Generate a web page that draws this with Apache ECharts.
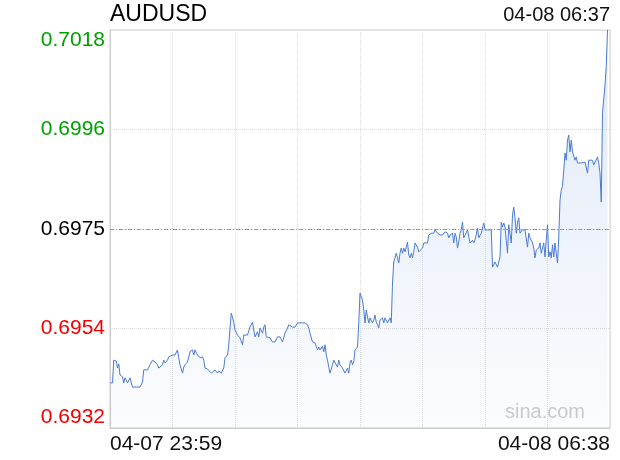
<!DOCTYPE html>
<html>
<head>
<meta charset="utf-8">
<script src="https://cdn.jsdelivr.net/npm/echarts@6/dist/echarts.min.js"></script>
<style>
  html, body { margin: 0; padding: 0; background: #fff; }
  #main { width: 620px; height: 460px; }
</style>
</head>
<body>
<div id="main"></div>
<script>
// minute index from 04-07 23:59
var minutes = [
  0,2,3,5,6,7,8,10,11,12,14,15,16,18,19,22,24,26,27,30,31,32,34,36,38,39,40,42,43,44,46,47,48,50,51,52,54,55,56,58,59,
  60,62,63,64,66,67,68,70,71,72,74,75,76,78,79,81,82,84,86,87,89,90,91,92,94,95,96,97,98,99,
  100,101,102,103,104,106,107,108,110,111,112,114,115,116,118,119,120,122,123,124,125,126,128,130,132,134,136,138,139,
  140,142,143,144,146,147,148,150,151,154,156,158,159,160,162,163,164,166,167,168,170,171,172,173,174,175,176,178,179,
  180,182,183,184,186,187,188,190,191,192,193,194,195,196,198,199,200,202,203,204,205,206,207,208,209,210,211,212,213,214,215,216,217,218,219,
  220,222,223,224,225,226,227,228,229,230,231,232,233,234,235,236,237,238,239,240,241,242,243,244,246,247,248,250,251,252,254,255,257,259,
  260,262,263,264,266,267,268,269,270,271,272,274,275,276,277,278,279,280,281,282,283,284,286,287,288,289,290,291,292,294,295,296,297,298,299,
  300,301,302,305,306,307,308,310,311,312,313,314,315,316,317,318,319,320,321,322,323,324,325,326,327,328,330,332,334,335,336,338,339,
  340,341,342,343,344,345,346,347,348,349,350,351,352,353,354,355,356,357,358,359,360,361,362,363,364,365,366,367,368,369,370,371,372,373,374,375,377,378,
  380,382,383,384,386,387,388,390,391,392,393,394,395,396,397,398
];
var prices = [
  0.69419,0.69419,0.69468,0.69466,0.69451,0.69460,0.69436,0.69432,0.69419,0.69430,0.69419,0.69419,0.69430,0.69410,0.69410,0.69410,0.69410,0.69421,0.69447,0.69447,0.69447,0.69458,0.69468,0.69464,0.69458,0.69451,0.69449,0.69458,0.69468,0.69462,0.69468,0.69475,0.69473,0.69479,0.69475,0.69479,0.69490,0.69473,0.69458,0.69440,0.69453,
  0.69458,0.69464,0.69475,0.69486,0.69490,0.69479,0.69490,0.69479,0.69483,0.69473,0.69475,0.69468,0.69451,0.69449,0.69449,0.69440,0.69440,0.69447,0.69440,0.69445,0.69440,0.69440,0.69451,0.69473,0.69479,0.69501,0.69537,0.69569,0.69565,0.69550,
  0.69533,0.69529,0.69522,0.69518,0.69516,0.69501,0.69522,0.69526,0.69522,0.69531,0.69539,0.69550,0.69533,0.69518,0.69529,0.69518,0.69537,0.69526,0.69539,0.69544,0.69518,0.69518,0.69516,0.69507,0.69507,0.69518,0.69518,0.69507,0.69507,
  0.69526,0.69537,0.69544,0.69548,0.69539,0.69539,0.69539,0.69548,0.69548,0.69548,0.69548,0.69544,0.69537,0.69526,0.69507,0.69507,0.69505,0.69490,0.69496,0.69490,0.69498,0.69486,0.69501,0.69479,0.69468,0.69453,0.69440,0.69458,0.69468,
  0.69466,0.69453,0.69468,0.69458,0.69451,0.69447,0.69440,0.69451,0.69440,0.69462,0.69468,0.69458,0.69464,0.69490,0.69496,0.69548,0.69612,0.69597,0.69576,0.69548,0.69576,0.69561,0.69548,0.69559,0.69559,0.69548,0.69554,0.69565,0.69550,0.69548,0.69537,0.69554,0.69550,0.69559,0.69548,
  0.69559,0.69548,0.69548,0.69559,0.69548,0.69634,0.69679,0.69688,0.69698,0.69688,0.69677,0.69698,0.69709,0.69698,0.69709,0.69701,0.69711,0.69722,0.69694,0.69688,0.69698,0.69688,0.69701,0.69720,0.69711,0.69701,0.69698,0.69709,0.69720,0.69720,0.69720,0.69737,0.69741,0.69741,
  0.69748,0.69741,0.69741,0.69737,0.69737,0.69741,0.69744,0.69748,0.69741,0.69731,0.69737,0.69741,0.69720,0.69741,0.69733,0.69709,0.69722,0.69741,0.69748,0.69765,0.69731,0.69731,0.69748,0.69752,0.69720,0.69720,0.69726,0.69720,0.69726,0.69752,0.69731,0.69731,0.69741,0.69737,0.69763,
  0.69748,0.69748,0.69748,0.69748,0.69668,0.69670,0.69679,0.69668,0.69668,0.69690,0.69765,0.69754,0.69763,0.69754,0.69726,0.69698,0.69759,0.69759,0.69720,0.69780,0.69797,0.69774,0.69741,0.69763,0.69774,0.69741,0.69748,0.69748,0.69711,0.69741,0.69731,0.69720,0.69709,
  0.69688,0.69705,0.69709,0.69709,0.69720,0.69698,0.69709,0.69720,0.69690,0.69726,0.69759,0.69690,0.69701,0.69688,0.69716,0.69690,0.69720,0.69698,0.69677,0.69733,0.69812,0.69834,0.69842,0.69877,0.69913,0.69898,0.69941,0.69952,0.69916,0.69941,0.69916,0.69916,0.69898,0.69905,0.69892,0.69888,0.69892,0.69888,
  0.69894,0.69870,0.69898,0.69898,0.69898,0.69888,0.69892,0.69905,0.69892,0.69870,0.69808,0.70000,0.70030,0.70060,0.70100,0.70178
];
var prevClose = 0.6975;
var yMin = 0.69322, yMax = 0.70178, yStep = 0.00214;
var xMin = 0, xMax = 400, xStep = 50;
var xStartLabel = '04-07 23:59';
var xEndLabel = '04-08 06:38';
var lastTime = '04-08 06:37';
var symbolName = 'AUDUSD';

var FONT = '"Liberation Sans", Arial, Helvetica, sans-serif';

var lineData = [];
for (var i = 0; i < minutes.length; i++) {
  lineData.push([minutes[i], prices[i]]);
}

var myChart = echarts.init(document.getElementById('main'), null, { renderer: 'canvas' });
var option = {
  animation: false,
  backgroundColor: '#fff',
  textStyle: { fontFamily: FONT },
  title: [{
    text: symbolName,
    left: 110, top: 3, padding: 0,
    textStyle: { fontSize: 23, fontWeight: 'normal', color: '#000', fontFamily: FONT }
  }, {
    text: lastTime,
    right: 10, top: 5, padding: 0,
    textStyle: { fontSize: 20, fontWeight: 'normal', color: '#111', fontFamily: FONT }
  }],
  grid: {
    left: 110, right: 10, top: 30, bottom: 32,
    show: true, borderColor: '#ccc', borderWidth: 1
  },
  xAxis: {
    type: 'value',
    min: xMin, max: xMax, interval: xStep,
    axisLine: { show: true, lineStyle: { color: '#ccc' } },
    axisTick: { show: false },
    axisLabel: {
      margin: 6,
      fontSize: 21,
      color: '#111',
      fontFamily: FONT,
      showMinLabel: true,
      showMaxLabel: true,
      alignMinLabel: 'left',
      alignMaxLabel: 'right',
      formatter: function (v) {
        if (v === xMin) return xStartLabel;
        if (v === xMax) return xEndLabel;
        return '';
      }
    },
    splitLine: { show: true, lineStyle: { color: '#ddd', type: 'dotted', width: 1 } }
  },
  yAxis: {
    type: 'value',
    min: yMin, max: yMax, interval: yStep,
    axisLine: { show: true, lineStyle: { color: '#ccc' } },
    axisTick: { show: false },
    axisLabel: {
      margin: 5,
      verticalAlignMinLabel: 'bottom',
      verticalAlignMaxLabel: 'top',
      formatter: function (v) {
        var s = v.toFixed(4);
        if (Math.abs(v - prevClose) < 1e-6) return '{m|' + s + '}';
        return v > prevClose ? '{u|' + s + '}' : '{d|' + s + '}';
      },
      rich: {
        u: { color: '#00a000', fontSize: 21, fontFamily: FONT },
        m: { color: '#000', fontSize: 21, fontFamily: FONT },
        d: { color: '#f00000', fontSize: 21, fontFamily: FONT }
      }
    },
    splitLine: { show: true, lineStyle: { color: '#ddd', type: 'dotted', width: 1 } }
  },
  graphic: [{
    type: 'text',
    right: 35, bottom: 38,
    style: { text: 'sina.com', fontSize: 20, fill: '#ccc', fontFamily: FONT }
  }],
  series: [{
    type: 'line',
    data: lineData,
    showSymbol: false,
    lineStyle: { color: '#4a7bd3', width: 1 },
    itemStyle: { color: '#4a7bd3' },
    areaStyle: {
      origin: 'start',
      color: {
        type: 'linear', x: 0, y: 30, x2: 0, y2: 428, global: true,
        colorStops: [
          { offset: 0, color: 'rgba(74,123,211,0.24)' },
          { offset: 1, color: 'rgba(74,123,211,0.03)' }
        ]
      }
    },
    markLine: {
      silent: true,
      symbol: 'none',
      label: { show: false },
      lineStyle: { color: '#999', type: [4, 2, 1, 2], width: 1 },
      data: [[{ coord: [xMin, prevClose] }, { coord: [xMax, prevClose] }]]
    }
  }]
};
myChart.setOption(option, true);
</script>
</body>
</html>
